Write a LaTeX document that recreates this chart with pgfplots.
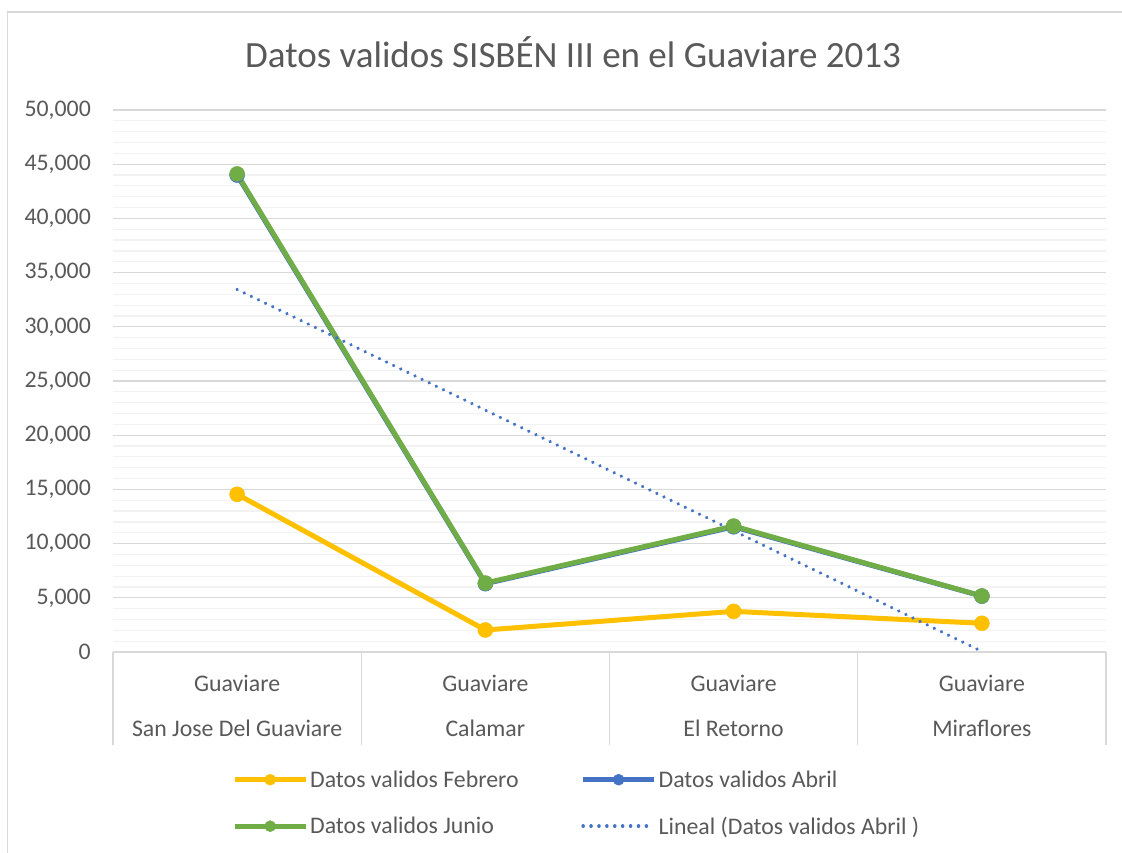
\documentclass[border=0pt]{standalone}
\usepackage{pgfplots}
\pgfplotsset{compat=1.18}
\usepackage{fontspec}
\setmainfont{Carlito}
\definecolor{cyellow}{HTML}{FFC000}
\definecolor{cblue}{HTML}{4472C4}
\definecolor{cgreen}{HTML}{70AD47}
\definecolor{ctext}{HTML}{595959}
\definecolor{cgrid}{HTML}{D9D9D9}
\definecolor{cminor}{HTML}{F2F2F2}
\begin{document}
\begin{tikzpicture}
\path[use as bounding box] (0,0) rectangle (1122bp,-853bp);
\draw[cgrid, line width=1.5bp] (7.5bp,-853bp) -- (7.5bp,-12bp) -- (1122bp,-12bp);
\node[anchor=base, text=ctext, font=\fontsize{37bp}{44bp}\selectfont, inner sep=0pt] at (573bp,-67bp) {Datos validos SISBÉN III en el Guaviare 2013};
\begin{axis}[
  at={(113bp,-110bp)}, anchor=north west,
  scale only axis, width=993bp, height=542bp,
  xmin=0.5, xmax=4.5, ymin=0, ymax=50000,
  clip=false,
  axis line style={draw=none},
  tick style={draw=none},
  major tick length=0pt, minor tick length=0pt,
  ytick={0,5000,...,50000},
  minor y tick num=4,
  ymajorgrids, yminorgrids,
  major grid style={cgrid, line width=1.2bp},
  minor grid style={cminor, line width=1.2bp},
  scaled y ticks=false,
  /pgf/number format/.cd, fixed, 1000 sep={,}, assume math mode=true,
  /pgfplots/.cd,
  yticklabel style={font=\fontsize{23.8bp}{28bp}\selectfont, text=ctext, anchor=east, inner sep=0pt, xshift=-22bp},
  xtick={1,2,3,4},
  xticklabels={{Guaviare\\San Jose Del Guaviare},{Guaviare\\Calamar},{Guaviare\\El Retorno},{Guaviare\\Miraflores}},
  xticklabel style={align=center, font=\fontsize{23.8bp}{45bp}\selectfont, text=ctext, anchor=north, inner sep=0pt, yshift=-23bp},
  legend columns=2,
  legend style={at={(axis description cs:0.1198,-0.215)}, anchor=north west, draw=none, fill=none, inner sep=0pt,
    font=\fontsize{23.8bp}{28bp}\selectfont, text=ctext,
    /tikz/every even column/.append style={column sep=60bp}, row sep=24bp},
  legend cell align=left,
  legend image code/.code={\draw[mark repeat=2,mark phase=2,#1,mark size=5.5bp] plot coordinates {(0bp,0bp) (35.5bp,0bp) (71bp,0bp)};},
]
\addplot[cyellow, line width=5bp, line join=round, mark=*, mark size=7.5bp, mark options={solid, fill=cyellow, draw=cyellow, line width=0.5bp}]
  coordinates {(1,14550) (2,2030) (3,3750) (4,2650)};
\addlegendentry{Datos validos Febrero}
\addplot[cblue, line width=5bp, line join=round, mark=*, mark size=7.5bp, mark options={solid, fill=cblue, draw=cblue, line width=0.5bp}]
  coordinates {(1,44000) (2,6300) (3,11550) (4,5150)};
\addlegendentry{Datos validos Abril}
\addplot[cgreen, line width=5bp, line join=round, mark=*, mark size=7.5bp, mark options={solid, fill=cgreen, draw=cgreen, line width=0.5bp}]
  coordinates {(1,44100) (2,6360) (3,11620) (4,5170)};
\addlegendentry{Datos validos Junio}
\addplot[cblue, line width=3.6bp, line cap=round, dash pattern=on 0.01bp off 7.9bp]
  coordinates {(1,33445) (4,55)};
\addlegendentry{Lineal (Datos validos Abril )}
\pgfplotsinvokeforeach{0.5,1.5,2.5,3.5,4.5}{\draw[cgrid, line width=1.2bp] (axis cs:#1,0) -- ([yshift=-93bp]axis cs:#1,0);}
\end{axis}
\end{tikzpicture}
\end{document}
